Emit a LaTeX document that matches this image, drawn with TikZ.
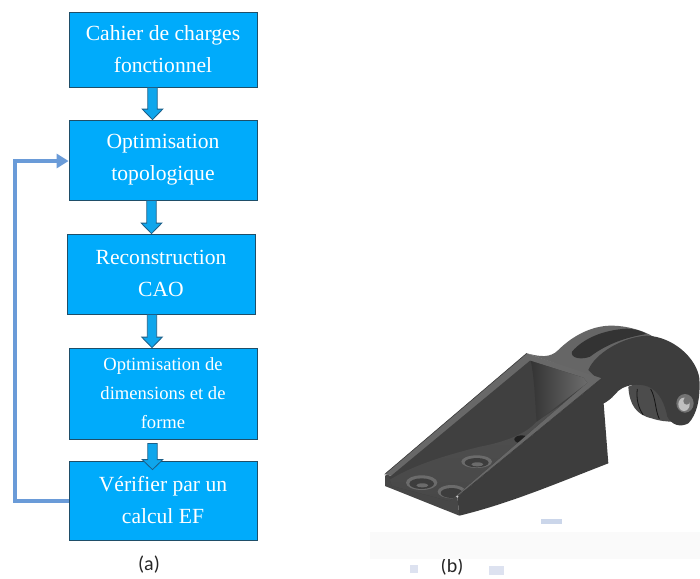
\documentclass[tikz,border=0pt]{standalone}
\usepackage{fontspec}
\setmainfont{Liberation Serif}
\newfontfamily\capfont{Carlito}
\usetikzlibrary{arrows.meta,calc}
\definecolor{boxfill}{HTML}{00ABFB}
\definecolor{boxline}{HTML}{1F4E68}
\definecolor{fb}{HTML}{6A9BD8}
\definecolor{arrowfill}{HTML}{0FA6EC}
\definecolor{arrowline}{HTML}{1C5F88}
\definecolor{sidec}{HTML}{3D3D3D}
\definecolor{rimc}{HTML}{686868}
\definecolor{wallc}{HTML}{404040}
\definecolor{markc}{HTML}{CBD6EA}
\definecolor{markd}{HTML}{DDE2F0}
\tikzset{
  stepbox/.style={draw=boxline,line width=.8pt,fill=boxfill,text=white,minimum width=188pt,inner sep=0pt,align=center,font=\fontsize{21.6}{32}\selectfont},
  smallbox/.style={stepbox,font=\fontsize{18.6}{29}\selectfont},
  blockarrow/.style={draw=arrowline,line width=.8pt,fill=arrowfill,line join=miter},
  feedback/.style={draw=fb,line width=4.5pt,-{Triangle[length=12pt,width=14pt]}},
  captext/.style={font=\capfont\fontsize{20}{24}\selectfont,text=black!85},
}
\newcommand{\blockconn}[3]{%
  \path[blockarrow] let \p1=(#1.south -| #3), \p2=(#2.north -| #3) in
    (\x1-4.7pt,\y1) -- (\x1-4.7pt,\y2+10.5pt) -- (\x1-10.3pt,\y2+10.5pt) -- (\x2,\y2)
    -- (\x1+10.3pt,\y2+10.5pt) -- (\x1+4.7pt,\y2+10.5pt) -- (\x1+4.7pt,\y1) -- cycle;}
\newcommand{\nudge}[2]{\raisebox{#1}{#2}}
\begin{document}
\begin{tikzpicture}[x=1pt,y=-1pt]
\useasboundingbox (0,0) rectangle (700,578);
\fill[white] (0,0) rectangle (700,578);
% flow chart
\node[stepbox,minimum height=75pt] (a) at (163,49.5) {Cahier de charges\\fonctionnel};
\node[stepbox,minimum height=80pt] (b) at (163,160) {\nudge{-1pt}{Optimisation}\\\nudge{-1pt}{topologique}};
\node[stepbox,minimum height=80pt] (c) at (161,274) {\nudge{2pt}{Reconstruction}\\\nudge{2pt}{CAO}};
\node[smallbox,minimum height=91pt] (d) at (163,393.5) {\nudge{-1pt}{Optimisation de}\\\nudge{-1pt}{dimensions et de}\\\nudge{-1pt}{forme}};
\node[stepbox,minimum height=79pt] (e) at (163,500.5) {\nudge{1pt}{Vérifier par un}\\\nudge{1pt}{calcul EF}};
\coordinate (ax1) at (152.5,0);
\coordinate (ax2) at (151.5,0);
\coordinate (ax3) at (152,0);
\coordinate (ax4) at (152.5,0);
\blockconn{a}{b}{ax1}
\blockconn{b}{c}{ax2}
\blockconn{c}{d}{ax3}
\path[blockarrow] let \p1=(d.south -| ax4), \p2=(e.north -| ax4) in
  (\x1-4.7pt,\y1-4pt) -- (\x1-4.7pt,\y2+1pt) -- (\x1-10.3pt,\y2+1pt) -- (\x2,\y2-9pt)
  -- (\x1+10.3pt,\y2+1pt) -- (\x1+4.7pt,\y2+1pt) -- (\x1+4.7pt,\y1-4pt) -- cycle;
\coordinate (fbl) at (15,0);
\draw[feedback] (e.west |- 0,501) -- (fbl |- 0,501) -- (fbl |- 0,161) -- (b.west |- 0,161);
\node[captext] (capa) at (149,565) {(a)};
\node[captext] (capb) at (452,567) {(b)};
% background marks
\begin{scope}[shift={(370,310)},scale=1/3]
  \fill[black!2] (0,665) rectangle (990,748);
  \fill[markc] (512,628) rectangle (575,643);
  \fill[markd] (120,766) rectangle (145,790);
  \fill[markd] (358,768) rectangle (402,794);
  % web between body and arm
  \fill[black!60] (470,130) .. controls (510,140) and (540,145) .. (565,120)
     .. controls (610,75) and (670,45) .. (730,47) .. controls (770,48) and (810,60) .. (835,72)
     -- (870,90) -- (700,210) -- (640,190) -- cycle;
  % slot
  \fill[black!80] (606,125) .. controls (640,85) and (700,60) .. (770,56) .. controls (790,56) and (815,62) .. (830,72)
     .. controls (750,85) and (700,110) .. (660,140) .. controls (635,150) and (600,145) .. (606,125) -- cycle;
\end{scope}
% arm
\begin{scope}[shift={(580,315)},scale=1/3]
  \fill[black!70] (145,215) .. controls (148,270) and (170,300) .. (215,310) .. controls (240,318) and (260,320) .. (280,320) -- (270,260) -- (220,210) -- (170,205) -- cycle;
  \draw[black!92,line width=.8pt] (172,222) .. controls (168,250) and (175,280) .. (190,300);
  \draw[black!92,line width=.8pt] (212,222) .. controls (228,250) and (225,285) .. (238,312);
  \fill[sidec] (25,165) .. controls (45,115) and (130,65) .. (200,62)
     .. controls (280,65) and (350,130) .. (358,190) .. controls (362,250) and (350,300) .. (325,325)
     .. controls (300,338) and (275,330) .. (262,305) .. controls (255,270) and (240,230) .. (205,215)
     .. controls (180,205) and (130,205) .. (105,238) .. controls (95,250) and (80,262) .. (65,268)
     -- (55,195) -- cycle;
  \fill[black!55] (315,265) ellipse [x radius=26pt,y radius=28pt];
  \fill[black!25] (312,268) ellipse [x radius=17pt,y radius=20pt];
  \fill[black!55] (320,258) ellipse [x radius=10pt,y radius=11pt];
\end{scope}
% body
\begin{scope}[shift={(380,350)},scale=1/3]
  \fill[sidec!95!white] (15,372) -- (15,408) -- (238,497) -- (232,440) -- cycle;
  \fill[sidec] (232,440) -- (665,85) -- (685,340) .. controls (530,400) and (390,460) .. (238,497) -- cycle;
  \fill[rimc] (15,372) -- (440,10) -- (665,85) -- (232,440) -- cycle;
  \draw[black!78,line width=.6pt] (232,440) -- (665,85);
  \draw[black!78,line width=.6pt] (15,372) -- (440,10);
  \begin{scope}
    \clip (28,382) -- (450,32) -- (610,83) -- (622,98) -- (225,440) -- (208,453) -- (35,407) -- cycle;
    \fill[wallc] (0,0) rectangle (700,500);
    \shade[top color=black!68,bottom color=black!72] (20,395) .. controls (90,350) and (180,320) .. (300,290) .. controls (380,275) and (440,250) .. (470,215) -- (640,100) -- (240,470) -- (20,420) -- cycle;
    \shade[left color=black!80,right color=black!55] (450,20) -- (470,20) -- (640,85) -- (470,215) .. controls (465,160) and (465,90) .. (450,20) -- cycle;
    \fill[black!58] (215,425) ellipse [x radius=42pt,y radius=20pt];
    \fill[black!76] (215,429) ellipse [x radius=33pt,y radius=15pt];
    \fill[black!88] (425,268) ellipse [x radius=22pt,y radius=12pt];
  \end{scope}
  \fill[black!58] (290,335) ellipse [x radius=46pt,y radius=19pt];
  \fill[black!76] (290,338) ellipse [x radius=36pt,y radius=14pt];
  \fill[black!58] (292,343) ellipse [x radius=18pt,y radius=6pt];
  \fill[black!58] (125,398) ellipse [x radius=47pt,y radius=22pt];
  \fill[black!76] (125,401) ellipse [x radius=37pt,y radius=16pt];
  \fill[black!58] (127,406) ellipse [x radius=18pt,y radius=6pt];
  \fill[black!25] (16,374) circle (3.5pt);
  \fill[black!20] (232,440) circle (3.5pt);
\end{scope}
\end{tikzpicture}
\end{document}
